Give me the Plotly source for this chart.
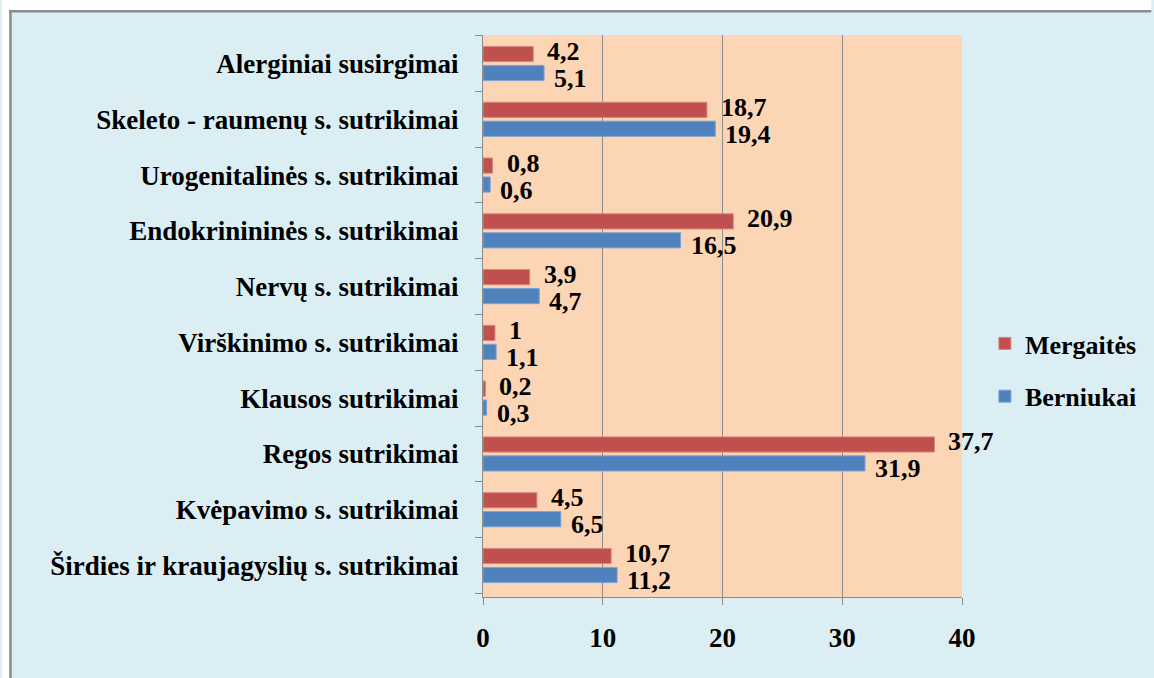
import plotly.graph_objects as go

categories = [
    "Širdies ir kraujagyslių s. sutrikimai",
    "Kvėpavimo s. sutrikimai",
    "Regos sutrikimai",
    "Klausos sutrikimai",
    "Virškinimo s. sutrikimai",
    "Nervų s. sutrikimai",
    "Endokrinininės s. sutrikimai",
    "Urogenitalinės s. sutrikimai",
    "Skeleto - raumenų s. sutrikimai",
    "Alerginiai susirgimai",
]
mergaites = [10.7, 4.5, 37.7, 0.2, 1.0, 3.9, 20.9, 0.8, 18.7, 4.2]
berniukai = [11.2, 6.5, 31.9, 0.3, 1.1, 4.7, 16.5, 0.6, 19.4, 5.1]
x_ticks = [0, 10, 20, 30, 40]

RED = "#C0504D"
BLUE = "#4F81BD"
FONT = "Liberation Serif, Times New Roman, DejaVu Serif, serif"


def fmt(v):
    return f"{v:g}".replace(".", ",")


def bold(size):
    return dict(family=FONT, size=size, color="black", weight="bold")


fig = go.Figure()
fig.add_trace(go.Bar(
    name="Berniukai", y=categories, x=berniukai, orientation="h",
    marker=dict(color=BLUE, line=dict(color="#7EA3D4", width=1)),
    legendgroup="b", legendrank=2,
))
fig.add_trace(go.Bar(
    name="Mergaitės", y=categories, x=mergaites, orientation="h",
    marker=dict(color=RED, line=dict(color="#D98684", width=1)),
    legendgroup="m", legendrank=1,
))

annotations = []
for c, v in zip(categories, mergaites):
    annotations.append(dict(x=v, y=c, xref="x", yref="y", text=fmt(v), showarrow=False,
                            xanchor="left", yanchor="middle", xshift=12, yshift=12,
                            font=bold(26)))
for c, v in zip(categories, berniukai):
    annotations.append(dict(x=v, y=c, xref="x", yref="y", text=fmt(v), showarrow=False,
                            xanchor="left", yanchor="middle", xshift=8, yshift=-15,
                            font=bold(26)))

W, H = 1154, 678
L, R, T, B = 483, 190, 35, 81
pw, ph = W - L - R, H - T - B


def px_x(p):
    return (p - L) / pw


def px_y(p):
    return (H - B - p) / ph


shapes = [
    dict(type="rect", xref="paper", yref="paper", x0=px_x(0), x1=px_x(W), y0=px_y(10), y1=px_y(0),
         fillcolor="white", line=dict(width=0)),
    dict(type="rect", xref="paper", yref="paper", x0=px_x(0), x1=px_x(7), y0=px_y(H), y1=px_y(0),
         fillcolor="white", line=dict(width=0)),
    dict(type="line", xref="paper", yref="paper", x0=px_x(7), x1=px_x(W), y0=px_y(11.3), y1=px_y(11.3),
         line=dict(color="#8C8C8C", width=2.5)),
    dict(type="line", xref="paper", yref="paper", x0=px_x(8.5), x1=px_x(8.5), y0=px_y(10), y1=px_y(H),
         line=dict(color="#8C8C8C", width=2.5)),
]

fig.update_layout(
    width=W, height=H,
    margin=dict(l=L, r=R, t=T, b=B, pad=0),
    paper_bgcolor="#DBEEF4",
    plot_bgcolor="#FCD5B4",
    barmode="group", bargap=0.32, bargroupgap=0.2,
    font=bold(27),
    showlegend=True,
    legend=dict(x=px_x(987), y=px_y(370), xanchor="left", yanchor="middle",
                traceorder="grouped", tracegroupgap=16, bgcolor="rgba(0,0,0,0)",
                font=bold(26)),
    annotations=annotations,
    shapes=shapes,
)
fig.update_xaxes(range=[0, 40], tickvals=x_ticks, showgrid=True, gridcolor="#8C8C8C", gridwidth=1,
                 showline=True, linecolor="#8C8C8C", linewidth=1, ticks="outside", ticklen=7,
                 tickcolor="#8C8C8C", ticklabelstandoff=10, zeroline=False,
                 tickfont=bold(27))
fig.update_yaxes(tickson="boundaries", ticks="outside", ticklen=7, tickcolor="#8C8C8C",
                 showline=True, linecolor="#8C8C8C", linewidth=1, showgrid=False,
                 ticklabelstandoff=18,
                 tickfont=bold(27))

fig.write_html(
    "out.html",
    config={"displayModeBar": False},
    post_script="document.body.style.margin='0px';document.body.style.overflow='hidden';",
)
